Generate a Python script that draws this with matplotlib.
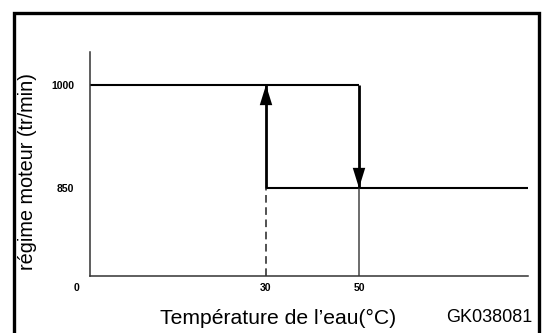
import numpy as np
import matplotlib
matplotlib.use("Agg")
import matplotlib.pyplot as plt
from matplotlib.patches import Rectangle

plt.rcParams['font.family'] = ['Liberation Sans', 'DejaVu Sans']

# Water temperature (°C) and engine speed (tr/min) for the idle-up hysteresis
temp_ticks = [30, 50]
speed_ticks = [850, 1000]
temp_on = 30        # speed rises to high idle below this temperature
temp_off = 50       # speed drops back to normal idle above this temperature
speed_low = 850
speed_high = 1000
temp_end = 100
speed_top = 1100

# Schematic (non-proportional) axes: piecewise-linear scales
x_knots_val = [0, 30, 50, 100]
x_knots_pos = [0, 176, 269, 438]
y_knots_val = [0, 850, 1000, 1100]
y_knots_pos = [0, 88, 191, 224]


def fx(v):
    return np.interp(v, x_knots_val, x_knots_pos)


def fx_inv(p):
    return np.interp(p, x_knots_pos, x_knots_val)


def fy(v):
    return np.interp(v, y_knots_val, y_knots_pos)


def fy_inv(p):
    return np.interp(p, y_knots_pos, y_knots_val)


W, H = 544, 333
fig = plt.figure(figsize=(W / 100, H / 100), dpi=100)
ax = fig.add_axes([90 / W, 57 / H, 438 / W, 224 / H])
ax.set_xscale('function', functions=(fx, fx_inv))
ax.set_yscale('function', functions=(fy, fy_inv))
ax.set_xlim(0, temp_end)
ax.set_ylim(0, speed_top)

for side in ('top', 'right'):
    ax.spines[side].set_visible(False)
for side in ('left', 'bottom'):
    ax.spines[side].set_color('#333333')
    ax.spines[side].set_linewidth(1.1)

# High idle line and normal idle line
ax.plot([0, temp_off], [speed_high, speed_high], color='black', lw=1.5,
        solid_capstyle='butt')
ax.plot([temp_on, temp_end], [speed_low, speed_low], color='black', lw=1.5,
        solid_capstyle='butt')

# Guides down to the temperature axis
ax.plot([temp_on, temp_on], [0, speed_low], color='#222222', lw=1.1,
        dashes=(5, 3))
ax.plot([temp_off, temp_off], [0, speed_low], color='#444444', lw=1.1)

# Transition arrows: thick shafts plus filled heads
ax.plot([temp_on, temp_on], [speed_low, speed_high], color='black', lw=2,
        solid_capstyle='butt')
ax.plot([temp_off, temp_off], [speed_high, speed_low], color='black', lw=2,
        solid_capstyle='butt')
head_style = dict(arrowstyle='-|>,head_length=1.45,head_width=0.45',
                  facecolor='black', edgecolor='black', lw=0,
                  shrinkA=0, shrinkB=0, mutation_scale=10)
ax.annotate('', xy=(temp_on, speed_high), xytext=(temp_on, speed_low),
            arrowprops=head_style)
ax.annotate('', xy=(temp_off, speed_low), xytext=(temp_off, speed_high),
            arrowprops=head_style)

tick_font = dict(fontsize=7.5, fontweight='bold', color='black')
ax.set_xticks(temp_ticks)
ax.set_xticklabels([str(t) for t in temp_ticks], **tick_font)
ax.set_yticks(speed_ticks)
ax.set_yticklabels([str(s) for s in speed_ticks], **tick_font)
ax.tick_params(axis='both', length=0)
ax.tick_params(axis='x', pad=5.2)
ax.tick_params(axis='y', pad=11.5)
ax.minorticks_off()
ax.annotate('0', xy=(0, 0), xytext=(-9.4, -8.6), textcoords='offset points',
            ha='center', va='center', **tick_font)

fig.text(28 / W, 1 - 171 / H, 'régime moteur (tr/min)', rotation=90,
         ha='center', va='center', fontsize=14.3)
fig.text(278 / W, 1 - 318 / H, 'Température de l’eau(°C)',
         ha='center', va='center', fontsize=15.2)
fig.text(532 / W, 1 - 318 / H, 'GK038081', ha='right', va='center',
         fontsize=13)

# Page frame
fig.patches.append(Rectangle((14 / W, -0.2), 525 / W, 1.2 - 13 / H,
                             transform=fig.transFigure, fill=False,
                             edgecolor='black', lw=2.4, clip_on=False))

fig.savefig('out.png', dpi=100)
